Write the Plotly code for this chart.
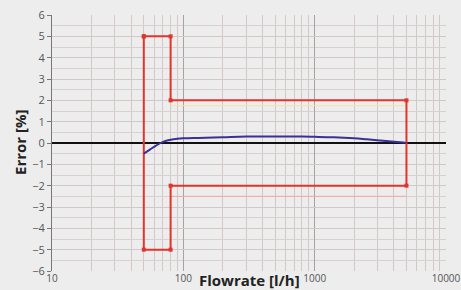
import plotly.graph_objects as go

# Limit envelope (red)
limit_x = [50, 80, 80, 5000, 5000, 80, 80, 50, 50]
limit_y = [5, 5, 2, 2, -2, -2, -5, -5, 5]

# Measured error curve (blue)
err_x = [50, 56, 62, 70, 80, 90, 100, 130, 200, 300, 500, 800, 1000, 1400, 2000, 2500, 3500, 4500, 5000]
err_y = [-0.5, -0.3, -0.12, 0.05, 0.15, 0.2, 0.22, 0.24, 0.27, 0.3, 0.3, 0.3, 0.29, 0.27, 0.22, 0.17, 0.09, 0.03, 0.0]

# faint auxiliary lines
aux1_x = [80, 5000]
aux1_y = [1.75, 1.75]
aux2_x = [80, 5000]
aux2_y = [-2.5, -2.5]

y_ticks = list(range(-6, 7))
x_tickvals = [10, 100, 1000, 10000]
x_ticktext = ["10", "100", "1000", "10000"]

fig = go.Figure()
fig.add_trace(go.Scatter(x=aux1_x, y=aux1_y, mode="lines",
                         line=dict(color="#f3e7a8", width=1), hoverinfo="skip"))
fig.add_trace(go.Scatter(x=aux2_x, y=aux2_y, mode="lines",
                         line=dict(color="#f2a8a8", width=1), hoverinfo="skip"))
fig.add_trace(go.Scatter(x=limit_x, y=limit_y, mode="lines+markers",
                         line=dict(color="#e0352c", width=2),
                         marker=dict(symbol="square", size=4, color="#e0352c")))
fig.add_trace(go.Scatter(x=err_x, y=err_y, mode="lines", line_shape="spline",
                         line=dict(color="#3b3096", width=2)))

fig.update_layout(
    width=461, height=290,
    margin=dict(l=52, r=15, t=15, b=19),
    paper_bgcolor="#ededed", plot_bgcolor="#ededed",
    showlegend=False,
    font=dict(family="Open Sans, DejaVu Sans, sans-serif", size=10, color="#555555"),
)
fig.update_xaxes(
    type="log", range=[1, 4], automargin=False,
    tickvals=x_tickvals, ticktext=x_ticktext,
    showgrid=True, gridcolor="#a8a2a2", gridwidth=1,
    minor=dict(dtick="D1", showgrid=True, gridcolor="#d2c8c8", gridwidth=1),
    showline=False, zeroline=False, ticks="",
    tickfont=dict(size=10, color="#555555"),
)
fig.update_yaxes(
    range=[-6, 6], tickvals=y_ticks, automargin=False,
    showgrid=True, gridcolor="#d2c8c8", gridwidth=1,
    minor=dict(dtick=0.5, showgrid=True, gridcolor="#dad0d0", gridwidth=1),
    showline=True, linecolor="#777777", linewidth=1,
    ticks="outside", ticklen=4, tickcolor="#777777",
    zeroline=True, zerolinecolor="#111111", zerolinewidth=2,
    tickfont=dict(size=11, color="#555555"),
)
fig.add_annotation(text="<b>Flowrate [l/h]</b>", xref="paper", yref="paper",
                   x=0.5, y=0, yshift=-9, yanchor="middle", showarrow=False,
                   font=dict(size=15, color="#222222", family="Open Sans, DejaVu Sans, sans-serif"))
fig.add_annotation(text="<b>Error [%]</b>", xref="paper", yref="paper",
                   x=0, xshift=-32, y=0.5, xanchor="center", textangle=-90, showarrow=False,
                   font=dict(size=15, color="#222222", family="Open Sans, DejaVu Sans, sans-serif"))

fig.write_html("out.html", config={"displayModeBar": False},
               post_script="document.body.style.margin='0';document.body.style.background='#ededed';")
